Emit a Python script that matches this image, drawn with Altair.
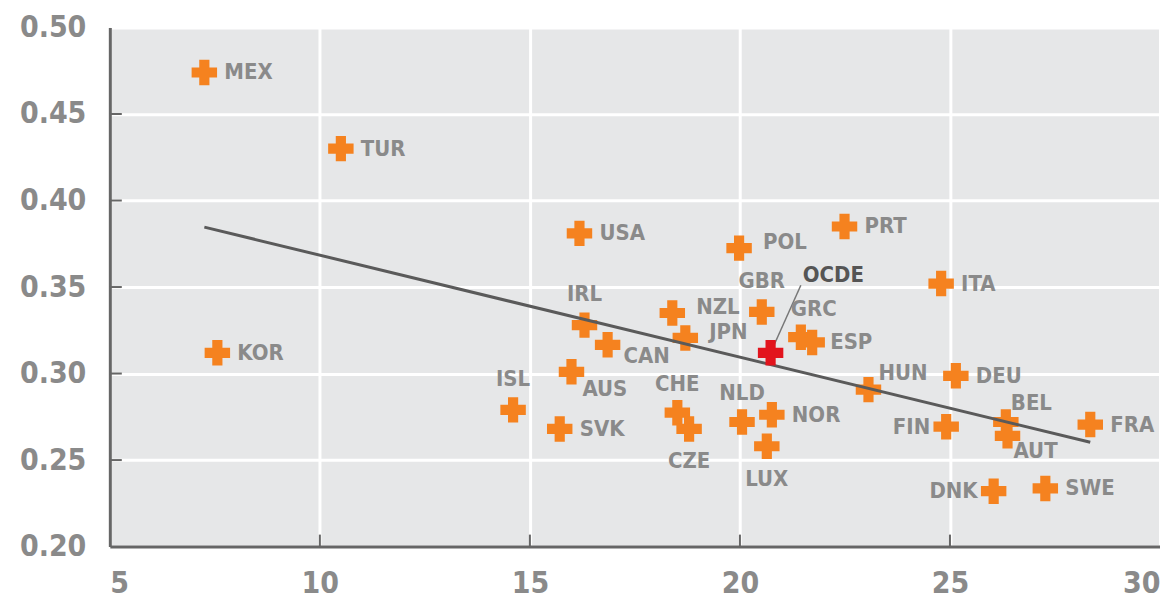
import altair as alt
import pandas as pd

# ---------------- data ----------------
COUNTRIES = ["MEX", "TUR", "KOR", "USA", "POL", "PRT", "ITA", "IRL", "NZL", "GBR",
             "JPN", "CAN", "GRC", "ESP", "AUS", "ISL", "SVK", "CHE", "CZE", "NLD",
             "NOR", "LUX", "HUN", "DEU", "FIN", "BEL", "AUT", "FRA", "DNK", "SWE"]
X_VALUES = [7.25, 10.50, 7.56, 16.18, 19.98, 22.49, 24.79, 16.30, 18.39, 20.52,
            18.70, 16.85, 21.45, 21.72, 15.99, 14.60, 15.71, 18.51, 18.79, 20.05,
            20.76, 20.64, 23.06, 25.14, 24.91, 26.33, 26.37, 28.34, 26.04, 27.27]
Y_VALUES = [0.474, 0.430, 0.312, 0.381, 0.3725, 0.385, 0.352, 0.328, 0.335, 0.3356,
            0.3206, 0.3166, 0.321, 0.318, 0.301, 0.279, 0.268, 0.2774, 0.268, 0.272,
            0.2762, 0.258, 0.2907, 0.2987, 0.2693, 0.272, 0.264, 0.2705, 0.232, 0.2336]

OECD_NAME = "OCDE"
OECD_X = 20.73
OECD_Y = 0.312
OECD_LABEL_X = 21.45
OECD_LABEL_Y = 0.351

X_TICKS = [5, 10, 15, 20, 25, 30]
Y_TICKS = [0.20, 0.25, 0.30, 0.35, 0.40, 0.45, 0.50]

# ---------------- style ----------------
FONT = "Liberation Sans Narrow, DejaVu Sans Condensed, Arial Narrow, Roboto Condensed, sans-serif"
ORANGE = "#f5821f"
RED = "#e2141d"
TEXT_GREY = "#8a8a8a"
AXIS_GREY = "#666666"
BG = "#e6e7e8"

# label placement: (dx, dy, align)
LABEL_PLACEMENT = {
    "MEX": (20, 0, "left"), "TUR": (20, 0, "left"), "KOR": (20, 0, "left"),
    "USA": (20, 0, "left"), "PRT": (20, 0, "left"), "ITA": (20, 0, "left"),
    "SVK": (20, 0, "left"), "DEU": (20, 0, "left"), "FRA": (20, 0, "left"),
    "SWE": (20, 0, "left"), "NOR": (20, 0, "left"), "ESP": (18, 0, "left"),
    "POL": (24, -6, "left"), "NZL": (24, -6, "left"), "JPN": (24, -6, "left"),
    "HUN": (10, -17, "left"), "BEL": (5, -19, "left"),
    "GRC": (-10, -28, "left"),
    "IRL": (0, -31, "center"), "GBR": (0, -31, "center"), "ISL": (0, -31, "center"),
    "CHE": (0, -29, "center"), "NLD": (0, -29, "center"),
    "CZE": (0, 32, "center"), "LUX": (0, 33, "center"),
    "CAN": (16, 11, "left"), "AUS": (11, 17, "left"), "AUT": (6, 15, "left"),
    "FIN": (-16, 0, "right"), "DNK": (-16, 0, "right"),
}

df = pd.DataFrame({"country": COUNTRIES, "x": X_VALUES, "y": Y_VALUES})
oecd = pd.DataFrame({"country": [OECD_NAME], "x": [OECD_X], "y": [OECD_Y],
                     "lx": [OECD_LABEL_X], "ly": [OECD_LABEL_Y]})

xs = alt.Scale(domain=[5, 30], nice=False, zero=False)
ys = alt.Scale(domain=[0.20, 0.50], nice=False, zero=False)

x_axis = alt.Axis(values=X_TICKS, format="d", grid=True, gridColor="white", gridWidth=3,
                  domainColor=AXIS_GREY, domainWidth=3, ticks=False, labelPadding=22,
                  labelFont=FONT, labelFontSize=30, labelColor=TEXT_GREY,
                  labelFontWeight="bold", labelFlush=True, title=None)
y_axis = alt.Axis(values=Y_TICKS, format=".2f", grid=True, gridColor="white", gridWidth=3,
                  domainColor=AXIS_GREY, domainWidth=3, ticks=False, labelPadding=24,
                  labelFont=FONT, labelFontSize=30, labelColor=TEXT_GREY,
                  labelFontWeight="bold", title=None)

base = alt.Chart(df)

points = base.mark_point(shape="cross", filled=True, size=650, color=ORANGE, opacity=1).encode(
    x=alt.X("x:Q", scale=xs, axis=x_axis),
    y=alt.Y("y:Q", scale=ys, axis=y_axis),
)

reg = base.transform_regression("x", "y").mark_line(color="#5a5a5a", strokeWidth=3).encode(
    x=alt.X("x:Q", scale=xs), y=alt.Y("y:Q", scale=ys)
)

# small inward ticks
ytick_df = pd.DataFrame({"v": Y_TICKS[1:-1]})
xtick_df = pd.DataFrame({"v": X_TICKS[1:-1]})
yticks = alt.Chart(ytick_df).mark_rule(color=AXIS_GREY, strokeWidth=2).encode(
    y=alt.Y("v:Q", scale=ys), x=alt.value(0), x2=alt.value(12))
xticks = alt.Chart(xtick_df).mark_rule(color=AXIS_GREY, strokeWidth=2).encode(
    x=alt.X("v:Q", scale=xs), y=alt.value(520), y2=alt.value(508))

leader = alt.Chart(oecd).mark_rule(color="#777777", strokeWidth=1.5).encode(
    x=alt.X("x:Q", scale=xs), y=alt.Y("y:Q", scale=ys), x2="lx:Q", y2="ly:Q")

oecd_pt = alt.Chart(oecd).mark_point(shape="cross", filled=True, size=650, color=RED, opacity=1).encode(
    x=alt.X("x:Q", scale=xs), y=alt.Y("y:Q", scale=ys))

oecd_txt = alt.Chart(oecd).mark_text(font=FONT, fontSize=22, fontWeight="bold", color="#555555",
                                     align="left", dx=2, dy=-10).encode(
    x=alt.X("lx:Q", scale=xs), y=alt.Y("ly:Q", scale=ys), text="country:N")

# group labels by placement
groups = {}
for c, p in LABEL_PLACEMENT.items():
    groups.setdefault(p, []).append(c)

label_layers = []
for (dx, dy, align), members in groups.items():
    label_layers.append(
        base.transform_filter(alt.FieldOneOfPredicate(field="country", oneOf=members))
        .mark_text(font=FONT, fontSize=22, fontWeight="bold", color=TEXT_GREY,
                   align=align, baseline="middle", dx=dx, dy=dy)
        .encode(x=alt.X("x:Q", scale=xs), y=alt.Y("y:Q", scale=ys), text="country:N")
    )

chart = alt.layer(points, reg, yticks, xticks, leader, oecd_pt, oecd_txt, *label_layers).properties(
    width=1052, height=520,
    autosize=alt.AutoSizeParams(type="none"),
    padding={"left": 102, "top": 19, "right": 0, "bottom": 60},
).configure_view(fill=BG, stroke=None)

chart.save("out.html", embed_options={"renderer": "svg", "actions": False})
